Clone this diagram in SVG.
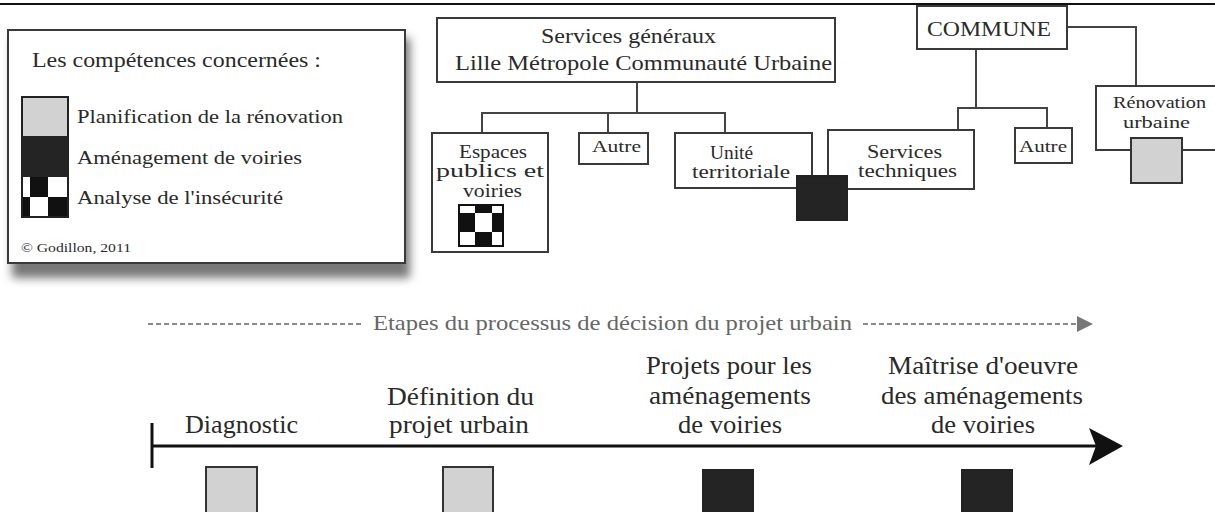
<svg xmlns="http://www.w3.org/2000/svg" width="1215" height="512" viewBox="0 0 1215 512">
<style>
text{font-family:"Liberation Serif","DejaVu Serif",serif;fill:#2a2a2a}
.box{fill:#fff;stroke:#3a3a3a;stroke-width:2}
.con{fill:none;stroke:#444;stroke-width:2}
.lg{fill:#d2d2d2;stroke:#333;stroke-width:2}
.dk{fill:#242424;stroke:#222;stroke-width:2}
.t22{font-size:22px}
.t19{font-size:19px}
.t17{font-size:17px}
.t25{font-size:25px}
.dash{stroke:#8a8a8a;stroke-width:2;stroke-dasharray:5 3;fill:none}
</style>
<defs>
<filter id="blur" x="-10%" y="-10%" width="120%" height="130%"><feGaussianBlur stdDeviation="5"/></filter>
</defs>
<rect width="1215" height="512" fill="#fff"/>
<line x1="0" y1="4" x2="1215" y2="4" stroke="#111" stroke-width="2"/>

<g id="legend">
<rect x="12" y="38" width="398" height="240" fill="#777" filter="url(#blur)"/>
<rect x="8" y="30" width="397" height="233" class="box"/>
<text x="32" y="67" font-size="20" textLength="289" lengthAdjust="spacingAndGlyphs">Les compétences concernées :</text>
<rect x="22" y="97" width="46" height="39" fill="#d2d2d2"/>
<rect x="22" y="136" width="46" height="41" fill="#242424"/>
<rect x="22" y="177" width="46" height="40" fill="#fff"/>
<rect x="30" y="177" width="18" height="20" fill="#111"/>
<rect x="22" y="197" width="8" height="20" fill="#111"/>
<rect x="48" y="197" width="20" height="20" fill="#111"/>
<rect x="22" y="97" width="46" height="120" fill="none" stroke="#222" stroke-width="2"/>
<text x="77" y="123" class="t19" textLength="266" lengthAdjust="spacingAndGlyphs">Planification de la rénovation</text>
<text x="77" y="164" class="t19" textLength="225" lengthAdjust="spacingAndGlyphs">Aménagement de voiries</text>
<text x="77" y="204" class="t19" textLength="206" lengthAdjust="spacingAndGlyphs">Analyse de l'insécurité</text>
<text x="21" y="252" font-size="13" textLength="110" lengthAdjust="spacingAndGlyphs">© Godillon, 2011</text>
</g>

<g id="connectors">
<polyline class="con" points="637,82 637,113"/>
<polyline class="con" points="482,133 482,113 725,113 725,133"/>
<polyline class="con" points="608,113 608,133"/>
<polyline class="con" points="976,49 976,108"/>
<polyline class="con" points="958,130 958,108 1047,108 1047,128"/>
<polyline class="con" points="1067,27 1136,27 1136,86"/>
</g>

<g id="services-generaux">
<rect x="437" y="18" width="398" height="64" class="box"/>
<text x="541" y="43" class="t22" textLength="175" lengthAdjust="spacingAndGlyphs">Services généraux</text>
<text x="455" y="70" class="t22" textLength="377" lengthAdjust="spacingAndGlyphs">Lille Métropole Communauté Urbaine</text>
</g>

<g id="espaces-publics">
<rect x="432" y="133" width="116" height="119" class="box"/>
<text x="459" y="158" class="t19" textLength="68" lengthAdjust="spacingAndGlyphs">Espaces</text>
<text x="436" y="177" class="t19" textLength="108" lengthAdjust="spacingAndGlyphs">publics et</text>
<text x="463" y="197" class="t19" textLength="59" lengthAdjust="spacingAndGlyphs">voiries</text>
<rect x="459" y="205" width="44" height="41" fill="#fff"/>
<rect x="475" y="205" width="17" height="8" fill="#111"/>
<rect x="459" y="213" width="16" height="19" fill="#111"/>
<rect x="492" y="213" width="11" height="19" fill="#111"/>
<rect x="475" y="232" width="17" height="14" fill="#111"/>
<rect x="459" y="205" width="44" height="41" fill="none" stroke="#111" stroke-width="2"/>
</g>

<g id="autre-lmcu">
<rect x="579" y="133" width="69" height="31" class="box"/>
<text x="592" y="152" class="t17" textLength="49" lengthAdjust="spacingAndGlyphs">Autre</text>
</g>

<g id="unite-territoriale">
<rect x="675" y="133" width="137" height="55" class="box"/>
<text x="710" y="159" class="t19" textLength="43" lengthAdjust="spacingAndGlyphs">Unité</text>
<text x="692" y="178" class="t19" textLength="98" lengthAdjust="spacingAndGlyphs">territoriale</text>
</g>

<g id="services-techniques">
<rect x="828" y="130" width="146" height="59" class="box"/>
<text x="867" y="158" class="t19" textLength="75" lengthAdjust="spacingAndGlyphs">Services</text>
<text x="858" y="177" class="t19" textLength="99" lengthAdjust="spacingAndGlyphs">techniques</text>
</g>

<g id="amenagement-marker">
<rect x="797" y="176" width="50" height="44" class="dk"/>
</g>

<g id="commune">
<rect x="917" y="6" width="150" height="43" class="box"/>
<text x="927" y="36" font-size="21" textLength="124" lengthAdjust="spacingAndGlyphs">COMMUNE</text>
</g>

<g id="autre-commune">
<rect x="1015" y="128" width="57" height="35" class="box"/>
<text x="1019" y="152" class="t17" textLength="48" lengthAdjust="spacingAndGlyphs">Autre</text>
</g>

<g id="renovation-urbaine">
<rect x="1096" y="86" width="140" height="64" class="box"/>
<text x="1113" y="108" class="t17" textLength="93" lengthAdjust="spacingAndGlyphs">Rénovation</text>
<text x="1123" y="128" class="t17" textLength="67" lengthAdjust="spacingAndGlyphs">urbaine</text>
<rect x="1131" y="138" width="51" height="45" class="lg"/>
</g>

<g id="process-axis">
<line x1="148" y1="324" x2="364" y2="324" class="dash"/>
<text x="373" y="330" font-size="21" style="fill:#666" textLength="479" lengthAdjust="spacingAndGlyphs">Etapes du processus de décision du projet urbain</text>
<line x1="863" y1="324" x2="1078" y2="324" class="dash"/>
<polygon points="1077,316 1093,324 1077,332" fill="#777"/>
</g>

<g id="timeline">
<line x1="152" y1="446" x2="1100" y2="446" stroke="#111" stroke-width="3"/>
<line x1="152" y1="423" x2="152" y2="468" stroke="#111" stroke-width="3"/>
<polygon points="1089,428 1123,446 1089,465 1096,446" fill="#111"/>
</g>

<g id="step-diagnostic">
<text x="185" y="433" class="t25" textLength="113" lengthAdjust="spacingAndGlyphs">Diagnostic</text>
<rect x="206" y="467" width="51" height="50" class="lg"/>
</g>

<g id="step-definition">
<text x="387" y="405" class="t25" textLength="147" lengthAdjust="spacingAndGlyphs">Définition du</text>
<text x="389" y="433" class="t25" textLength="140" lengthAdjust="spacingAndGlyphs">projet urbain</text>
<rect x="443" y="467" width="50" height="50" class="lg"/>
</g>

<g id="step-projets">
<text x="646" y="374" class="t25" textLength="166" lengthAdjust="spacingAndGlyphs">Projets pour les</text>
<text x="649" y="404" class="t25" textLength="162" lengthAdjust="spacingAndGlyphs">aménagements</text>
<text x="678" y="433" class="t25" textLength="104" lengthAdjust="spacingAndGlyphs">de voiries</text>
<rect x="703" y="470" width="50" height="50" class="dk"/>
</g>

<g id="step-maitrise">
<text x="888" y="374" class="t25" textLength="190" lengthAdjust="spacingAndGlyphs">Maîtrise d'oeuvre</text>
<text x="881" y="404" class="t25" textLength="202" lengthAdjust="spacingAndGlyphs">des aménagements</text>
<text x="931" y="433" class="t25" textLength="104" lengthAdjust="spacingAndGlyphs">de voiries</text>
<rect x="962" y="470" width="50" height="50" class="dk"/>
</g>
</svg>
